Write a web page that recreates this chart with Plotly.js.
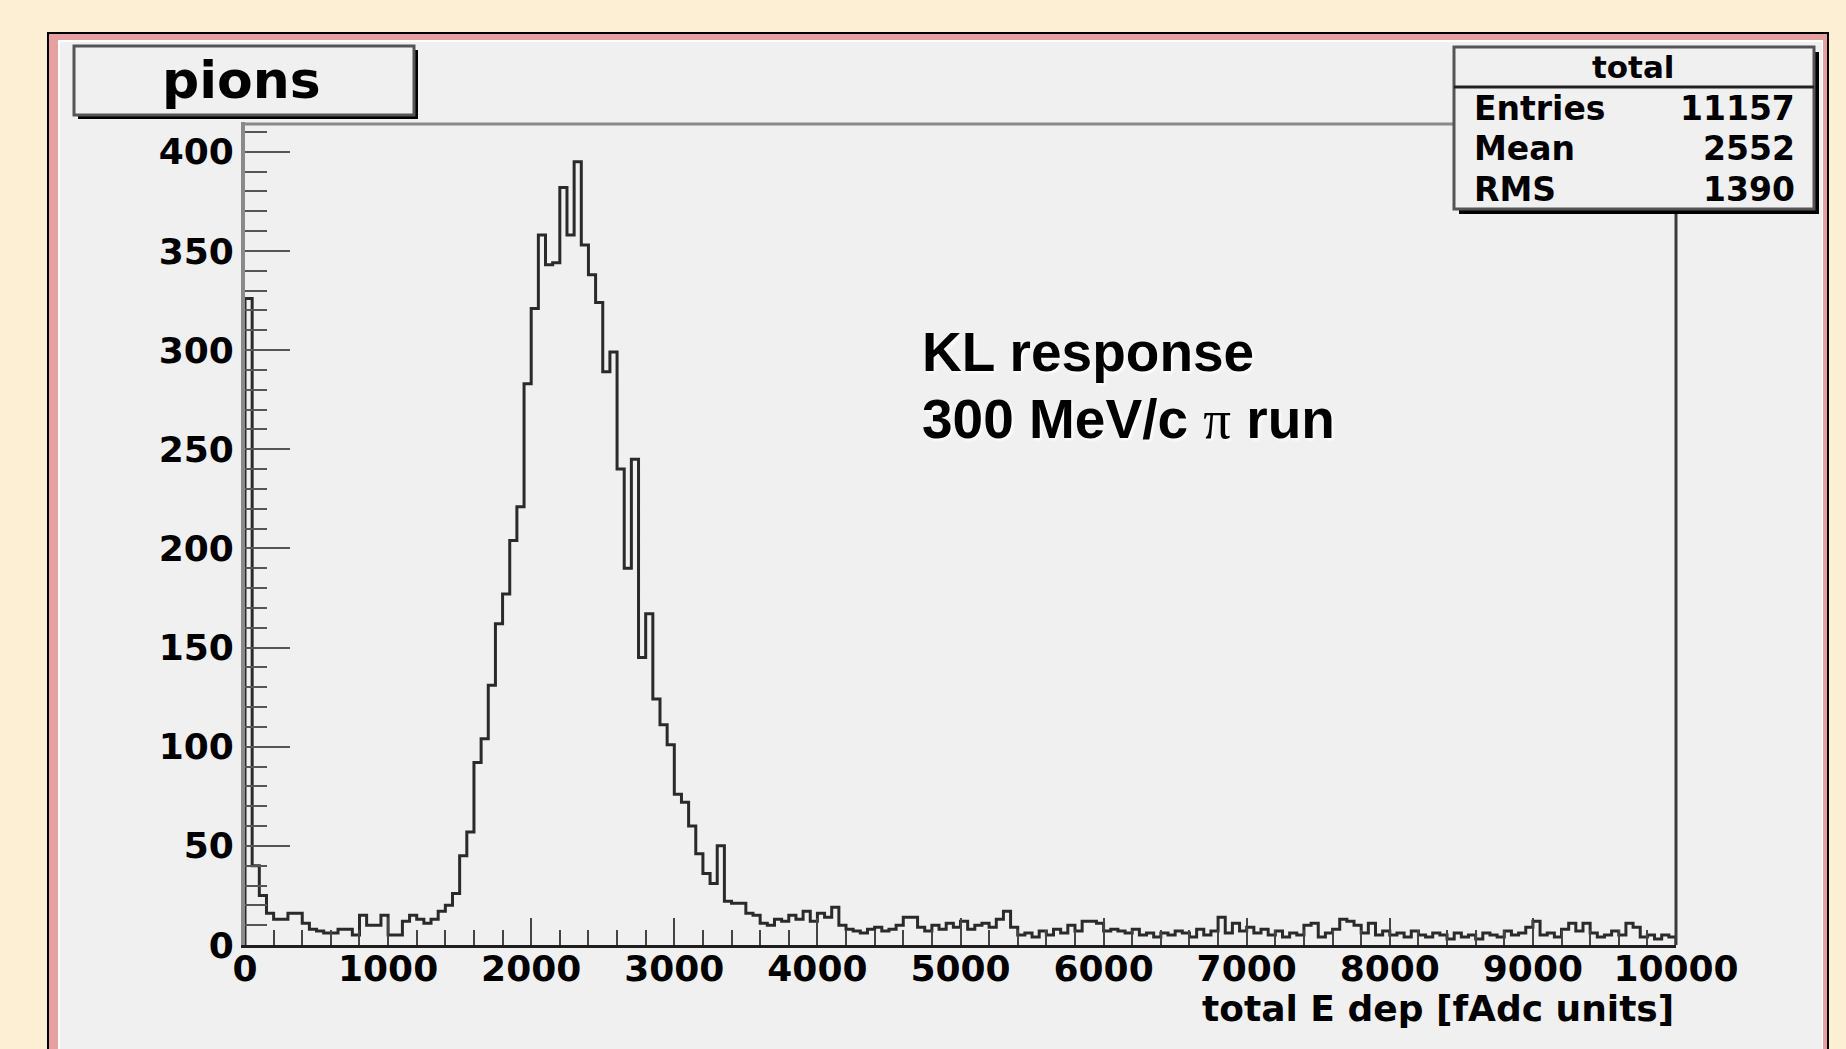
<!DOCTYPE html>
<html>
<head>
<meta charset="utf-8">
<script src="https://cdn.plot.ly/plotly-3.0.1.min.js"></script>
<style>
html,body{margin:0;padding:0;background:#FCEFD4;overflow:hidden;}
#chart{width:1846px;height:1049px;}
</style>
</head>
<body>
<div id="chart"></div>
<script>
// ---------------- data ----------------
const histTitle = 'pions';
const statsName = 'total';
const statsLabels = ['Entries', 'Mean', 'RMS'];
const statsValues = ['11157', '2552', '1390'];
const xAxisTitle = 'total E dep [fAdc units]';
const noteLines = ['KL response', '300 MeV/c <span style="font-family:Liberation Serif;font-weight:normal">π</span> run'];
const xTickVals = [0, 1000, 2000, 3000, 4000, 5000, 6000, 7000, 8000, 9000, 10000];
const xTickLabels = ['0', '1000', '2000', '3000', '4000', '5000', '6000', '7000', '8000', '9000', '10000'];
const binWidth = 50;
const xMin = 0;
const xMax = 10000;
const yMax = 415;
// counts per 50-unit bin (bins 0..199)
const counts = [
  326, 40, 25, 16, 13, 13, 16, 16, 11, 8,
  7, 6, 6, 8, 8, 5, 15, 10, 10, 15,
  5, 5, 12, 15, 13, 11, 13, 17, 20, 26,
  45, 57, 92, 104, 131, 162, 177, 204, 221, 283,
  321, 358, 343, 344, 382, 358, 395, 353, 338, 324,
  289, 299, 240, 190, 245, 145, 167, 124, 111, 101,
  76, 72, 60, 46, 36, 31, 50, 22, 21, 21,
  16, 15, 11, 10, 13, 12, 15, 13, 17, 12,
  16, 14, 19, 10, 8, 7, 6, 8, 9, 7,
  8, 10, 14, 14, 9, 7, 10, 8, 11, 9,
  12, 8, 10, 11, 9, 13, 17, 9, 5, 6,
  4, 7, 5, 8, 6, 10, 7, 12, 12, 11,
  7, 8, 7, 6, 8, 5, 6, 4, 6, 5,
  7, 6, 4, 8, 5, 7, 14, 6, 11, 7,
  9, 6, 8, 5, 7, 4, 6, 5, 10, 11,
  4, 6, 8, 13, 12, 10, 6, 11, 5, 7,
  5, 6, 4, 7, 5, 4, 6, 5, 3, 6,
  4, 5, 3, 6, 5, 4, 7, 5, 6, 9,
  12, 5, 6, 4, 8, 11, 7, 11, 6, 4,
  5, 7, 5, 11, 9, 4, 5, 3, 5, 4
];

// ---------------- step outline (ROOT "hist" style) ----------------
const xs = [xMin], ys = [0];
for (let i = 0; i < counts.length; i++) {
  xs.push(xMin + i * binWidth);
  ys.push(counts[i]);
}
xs.push(xMin + counts.length * binWidth); ys.push(counts[counts.length - 1]);
xs.push(xMin + counts.length * binWidth); ys.push(0);

// ---------------- geometry helpers (pixels -> paper) ----------------
const W = 1846, H = 1049;
const L = 245, R = 1676, T = 122, B = 945;
const px = v => (v - L) / (R - L);
const py = v => (B - v) / (B - T);
function rect(x0, y0, x1, y1, fill, line, layer) {
  return {type: 'rect', xref: 'paper', yref: 'paper',
    x0: px(x0), x1: px(x1), y0: py(y1), y1: py(y0),
    fillcolor: fill, line: line || {width: 0}, layer: layer || 'above'};
}
function seg(x0, y0, x1, y1, color, width, layer) {
  return {type: 'line', xref: 'paper', yref: 'paper',
    x0: px(x0), x1: px(x1), y0: py(y0), y1: py(y1),
    line: {color: color, width: width}, layer: layer || 'above'};
}

const rootFont = 'DejaVu Sans, Liberation Sans, Arial, sans-serif';

const shapes = [
  // canvas
  rect(48, 33, 1828, 1075, '#E6A0A0', {color: '#000', width: 2}, 'below'),
  rect(58, 40, 1823, 1075, '#FFFFFF', {width: 0}, 'below'),
  rect(60, 42, 1822, 1075, '#F0F0F0', {width: 0}, 'below'),
  // frame: top (light) and right (dark)
  seg(L, 124, R, 124, '#8a8a8a', 3),
  seg(R, 123, R, B, '#3a3a3a', 3),
  // title box
  rect(78, 50, 418, 119, '#000000'),
  rect(74, 46, 414, 115, '#F0F0F0', {color: '#555', width: 3}),
  // stats box
  rect(1459, 52, 1819, 214, '#000000'),
  rect(1454, 47, 1814, 209, '#F0F0F0', {color: '#555', width: 3}),
  seg(1454, 87, 1814, 87, '#222', 3)
];

const annotations = [];
function txt(text, x, y, size, xanchor, opts) {
  annotations.push(Object.assign({
    text: text, xref: 'paper', yref: 'paper', x: px(x), y: py(y),
    xanchor: xanchor, yanchor: 'middle', showarrow: false,
    font: {family: rootFont, size: size, color: '#000', weight: 'bold'}
  }, opts || {}));
}
txt(histTitle, 241, 80, 52, 'center');
txt(statsName, 1633, 67, 31, 'center');
const rowY = [108, 149, 189];
for (let i = 0; i < statsLabels.length; i++) {
  txt(statsLabels[i], 1472, rowY[i], 33, 'left');
  txt(statsValues[i], 1797, rowY[i], 33, 'right');
}
txt(xAxisTitle, 1676, 1008, 36, 'right');
const noteFont = {family: 'Liberation Sans, Arial, sans-serif', size: 55, color: '#000', weight: 'bold',
  shadow: '2px 2px 3px #ffffff'};
txt(noteLines[0], 920, 352, 55, 'left', {font: noteFont});
txt(noteLines[1], 920, 419, 55, 'left', {font: noteFont});

const tickFont = {family: rootFont, size: 36, color: '#000', weight: 'bold'};

const data = [{
  type: 'scatter', mode: 'lines', x: xs, y: ys,
  line: {shape: 'hv', color: '#2a2a2a', width: 3},
  hoverinfo: 'skip', showlegend: false, cliponaxis: true
}];

const layout = {
  width: W, height: H, autosize: false,
  margin: {l: L, r: W - R, t: T, b: H - B, pad: 0},
  paper_bgcolor: '#FCEFD4',
  plot_bgcolor: 'rgba(0,0,0,0)',
  showlegend: false,
  xaxis: {
    range: [xMin, xMax], showline: true, linecolor: '#1e1e1e', linewidth: 3,
    tickmode: 'array', tickvals: xTickVals, ticktext: xTickLabels,
    ticks: 'inside', ticklen: 27, tickwidth: 2, tickcolor: '#444',
    ticklabelstandoff: -10,
    tickfont: tickFont, showgrid: false, zeroline: false, fixedrange: true,
    minor: {ticks: 'inside', ticklen: 15, tickwidth: 2, tickcolor: '#444', tickmode: 'linear', tick0: 0, dtick: 200, showgrid: false}
  },
  yaxis: {
    range: [0, yMax], showline: true, linecolor: '#8a8a8a', linewidth: 4,
    tickmode: 'linear', tick0: 0, dtick: 50,
    ticks: 'inside', ticklen: 45, tickwidth: 2, tickcolor: '#555',
    tickfont: tickFont, showgrid: false, zeroline: false, fixedrange: true,
    minor: {ticks: 'inside', ticklen: 22, tickwidth: 2, tickcolor: '#555', tickmode: 'linear', tick0: 0, dtick: 10, showgrid: false}
  },
  shapes: shapes,
  annotations: annotations
};

Plotly.newPlot('chart', data, layout, {displayModeBar: false, staticPlot: true});
</script>
</body>
</html>
